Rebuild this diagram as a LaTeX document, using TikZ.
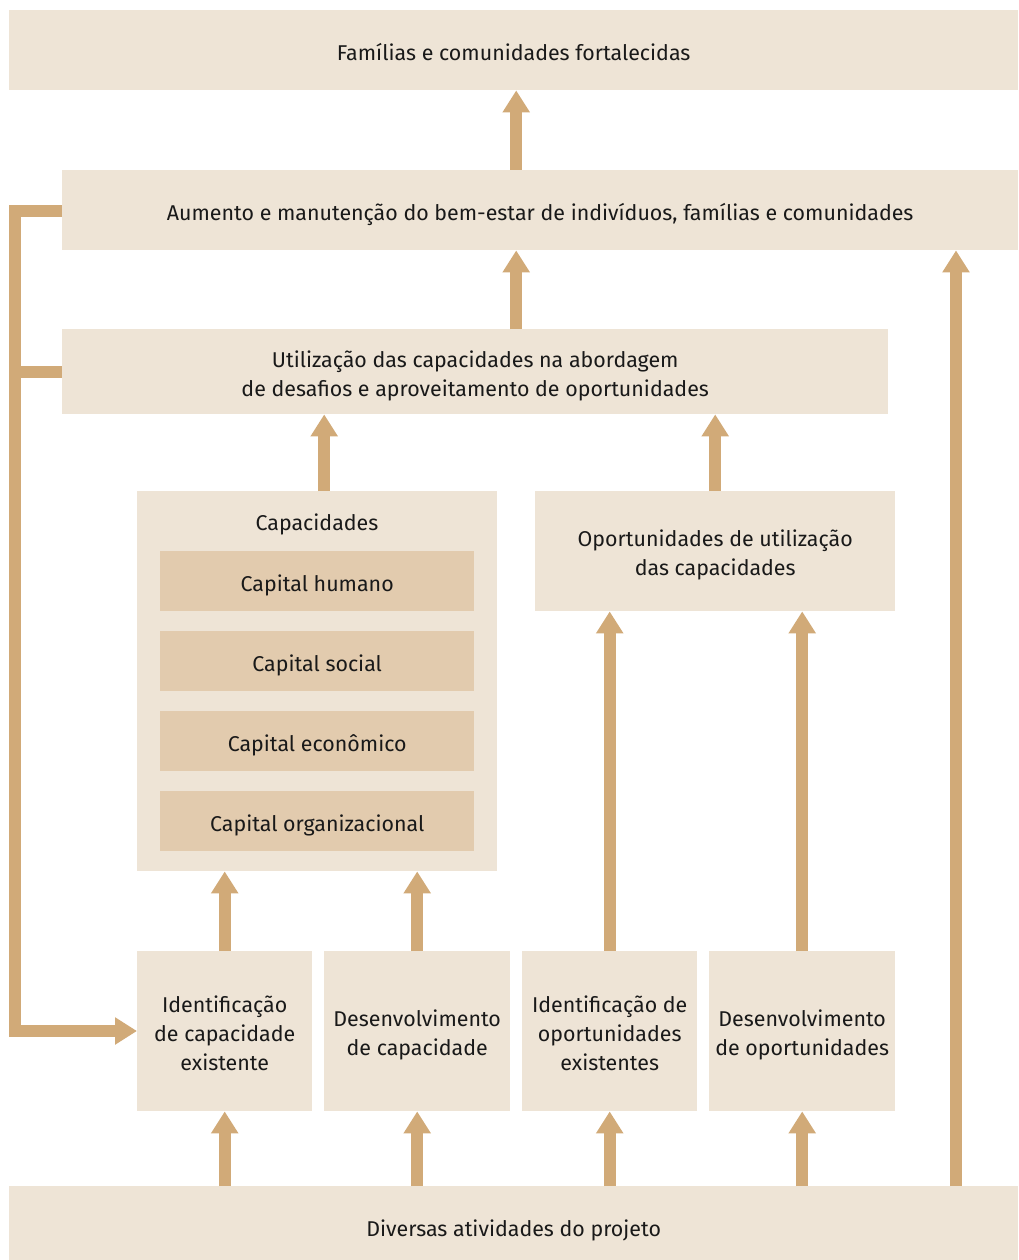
\documentclass[tikz,border=0pt]{standalone}
\usepackage{fontspec}
\setmainfont{Fira Sans}
\usetikzlibrary{arrows.meta}
\definecolor{boxc}{RGB}{238,228,214}
\definecolor{innerc}{RGB}{226,203,174}
\definecolor{arrc}{RGB}{209,170,120}
\newcommand\myfirststrut{\rule{0pt}{27pt}}
\begin{document}
\begin{tikzpicture}[x=1pt,y=-1pt,
  txt/.style={font=\fontsize{21.4}{29}\selectfont,text=black!90},
  mbox/.style={txt,fill=boxc,draw=none,anchor=north west,inner sep=0pt,align=center,
    execute at end node={\rule[-7pt]{0pt}{7pt}}},
  box/.style={mbox,execute at begin node={\rule{0pt}{28pt}}},
  inner/.style={box,fill=innerc},
  arr/.style={draw=arrc,line width=12pt,-{Triangle[width=26pt,length=22pt]}},
  fb/.style={draw=arrc,line width=12pt}]
\useasboundingbox (0,0) rectangle (1018,1260);
% boxes
\node[box,minimum width=1009pt,minimum height=80pt] (top) at (9,10) {Famílias e comunidades fortalecidas};
\node[box,minimum width=956pt,minimum height=80pt] (well) at (62,170) {Aumento e manutenção do bem-estar de indivíduos, famílias e comunidades};
\node[mbox,minimum width=826pt,minimum height=85pt] (use) at (62,329) {\myfirststrut Utilização das capacidades na abordagem\\de desafios e aproveitamento de oportunidades};
\node[mbox,minimum width=360pt,minimum height=380pt] (cap) at (137,491) {};
\node[txt,anchor=center,inner sep=0pt] (captitle) at (317,524) {Capacidades};
\node[inner,minimum width=314pt,minimum height=60pt] (hum) at (160,551) {Capital humano};
\node[inner,minimum width=314pt,minimum height=60pt] (soc) at (160,631) {Capital social};
\node[inner,minimum width=314pt,minimum height=60pt] (eco) at (160,711) {Capital econômico};
\node[inner,minimum width=314pt,minimum height=60pt] (org) at (160,791) {Capital organizacional};
\node[mbox,minimum width=360pt,minimum height=120pt] (opp) at (535,491) {\myfirststrut Oportunidades de utilização\\das capacidades};
\node[mbox,minimum width=175pt,minimum height=160pt] (ia) at (137,951) {\myfirststrut Identificação\\de capacidade\\existente};
\node[mbox,minimum width=186pt,minimum height=160pt] (ib) at (324,951) {\myfirststrut Desenvolvimento\\de capacidade};
\node[mbox,minimum width=175pt,minimum height=160pt] (ic) at (522,951) {\myfirststrut Identificação de\\oportunidades\\existentes};
\node[mbox,minimum width=186pt,minimum height=160pt] (id) at (709,951) {\myfirststrut Desenvolvimento\\de oportunidades};
\node[box,minimum width=1009pt,minimum height=80pt] (bot) at (9,1186) {Diversas atividades do projeto};
% arrows
\draw[arr] ([xshift=2.5pt]top.south |- well.north) -- ([xshift=2.5pt]top.south);
\draw[arr] ([xshift=2.5pt]top.south |- use.north) -- ([xshift=2.5pt]top.south |- well.south);
\draw[arr] ([xshift=7pt]cap.north) -- ([xshift=7pt]cap.north |- use.south);
\draw[arr] (opp.north) -- (opp.north |- use.south);
\draw[arr] (ia.north) -- (ia.north |- cap.south);
\draw[arr] (ib.north) -- (ib.north |- cap.south);
\draw[arr] (ic.north) -- (ic.north |- opp.south);
\draw[arr] (id.north) -- (id.north |- opp.south);
\draw[arr] (ia.south |- bot.north) -- (ia.south);
\draw[arr] (ib.south |- bot.north) -- (ib.south);
\draw[arr] (ic.south |- bot.north) -- (ic.south);
\draw[arr] (id.south |- bot.north) -- (id.south);
\coordinate (rx) at (956,0);
\draw[arr] (rx |- bot.north) -- (rx |- well.south);
% feedback
\coordinate (fbend) at (15,1031);
\coordinate (fwell) at (62,211);
\draw[arr] (fwell) -| (fbend) -- (fbend -| ia.west);
\draw[fb] ([xshift=-6pt]fbend |- use.west) -- (use.west);
\end{tikzpicture}
\end{document}
